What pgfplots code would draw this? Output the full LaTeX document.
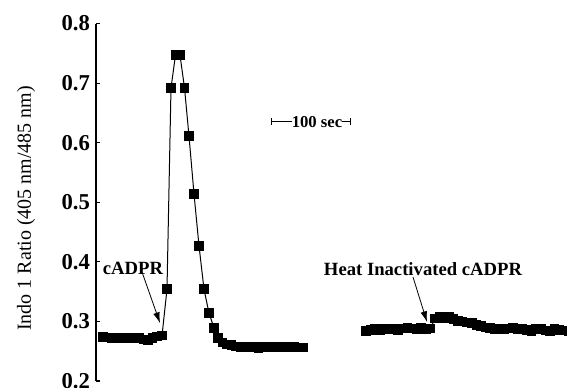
\documentclass[border=0pt]{standalone}
\usepackage{fontspec}
\setmainfont{Liberation Serif}
\usepackage{pgfplots}
\pgfplotsset{compat=1.18}
\usetikzlibrary{arrows.meta}
\begin{document}
\begin{tikzpicture}
\useasboundingbox (-72pt,-4.5pt) rectangle (353.25pt,285.75pt);
\begin{axis}[
  at={(0,0)}, anchor=south west,
  scale only axis, width=353.25pt, height=268.125pt,
  xmin=96, xmax=567, ymin=0.2, ymax=0.8,
  clip=false,
  hide x axis,
  axis y line*=left,
  y axis line style={-, line width=1pt},
  ytick={0.2,0.3,0.4,0.5,0.6,0.7,0.8},
  tick align=inside, major tick length=3pt,
  tick style={line width=0.8pt, black},
  /pgf/number format/assume math mode=true,
  yticklabel style={font=\fontsize{17}{17}\selectfont\bfseries, /pgf/number format/fixed, /pgf/number format/precision=1, /pgf/number format/fixed zerofill, xshift=-1pt},
  ylabel={Indo 1 Ratio (405 nm/485 nm)},
  ylabel style={at={(axis description cs:-0.1486,0.483)}, anchor=center, font=\fontsize{15}{15}\selectfont},
]
\addplot[black, line width=0.75pt, mark=square*, mark size=3.2pt, mark options={solid}] coordinates {
(103,0.274) (107.5,0.273) (112,0.272) (116.5,0.271) (121,0.272) (125.5,0.272) (130,0.273) (134.5,0.271) (139,0.272) (143.5,0.270) (148,0.268) (152.5,0.272) (157,0.275) (162,0.276)
(167,0.354) (171,0.692) (175.5,0.747) (180,0.747) (184.5,0.692) (189,0.611) (194,0.514) (199,0.427) (204,0.354) (209,0.314) (214,0.289)
(218,0.272) (222.5,0.265) (227,0.261) (231.5,0.260) (236,0.258) (240.5,0.257) (245,0.258) (249.5,0.256) (254,0.257) (258.5,0.255) (263,0.257) (267.5,0.256) (272,0.257) (276.5,0.258) (281,0.256) (285.5,0.257) (290,0.258) (294.5,0.257) (299,0.256) (303.5,0.256)
};
\addplot[black, line width=0.75pt, mark=square*, mark size=3.2pt, mark options={solid}] coordinates {
(366,0.284) (370.6,0.286) (375.2,0.287) (379.8,0.285) (384.4,0.288) (389,0.287) (393.6,0.288) (398.2,0.286) (402.8,0.288) (407.4,0.289) (412,0.288) (416.6,0.287) (421.2,0.289) (425.8,0.287) (430.4,0.288)
(435,0.305) (439.6,0.308) (444.2,0.305) (448.8,0.307) (453.4,0.304) (458,0.301) (462.6,0.300) (467.2,0.298) (471.8,0.297) (476.4,0.294) (481,0.292) (485.6,0.290) (490.2,0.289) (494.8,0.287) (499.4,0.288) (504,0.287) (508.6,0.288) (513.2,0.289) (517.8,0.287) (522.4,0.288) (527,0.286) (531.6,0.284) (536.2,0.287) (540.8,0.288) (545.4,0.285) (550,0.283) (554.6,0.287) (559.2,0.286) (563.8,0.285) (568.4,0.284)
};
% scale bar
\draw[line width=0.6pt, {Bar[width=5pt]}-] (axis cs:271,0.635) -- (axis cs:292,0.635);
\draw[line width=0.6pt, -{Bar[width=5pt]}] (axis cs:342,0.635) -- (axis cs:351,0.635);
\node[font=\fontsize{12.5}{12.5}\selectfont\bfseries, inner sep=0pt] at (axis cs:317,0.635) {100 sec};
% annotations
\node[font=\fontsize{14}{14}\selectfont\bfseries, inner sep=0pt] at (axis cs:133,0.3896) {cADPR};
\draw[line width=0.6pt, -{Latex[length=8pt,width=5pt]}] (axis cs:142,0.3829) -- (axis cs:160,0.2973);
\node[font=\fontsize{14}{14}\selectfont\bfseries, inner sep=0pt] at (axis cs:423,0.388) {Heat Inactivated cADPR};
\draw[line width=0.6pt, -{Latex[length=8pt,width=5pt]}] (axis cs:413,0.3745) -- (axis cs:427,0.299);
\end{axis}
\end{tikzpicture}
\end{document}
